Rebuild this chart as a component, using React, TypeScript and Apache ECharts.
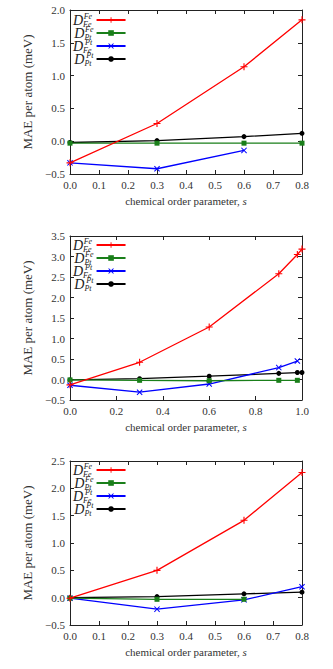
import React, { useEffect, useRef } from "react";
import * as echarts from "echarts";

const names = ["DFeFe", "DFePt", "DPtFe", "DPtPt"];
const supLabels = ["Fe", "Fe", "Pt", "Pt"];
const subLabels = ["Fe", "Pt", "Fe", "Pt"];
const colors = ["#ff0000", "#1a7f1a", "#0000ff", "#000000"];

// Panel 1
const p1FeFe = [[0, -0.33], [0.3, 0.27], [0.6, 1.135], [0.8, 1.85]];
const p1FePt = [[0, -0.03], [0.3, -0.03], [0.6, -0.03], [0.8, -0.03]];
const p1PtFe = [[0, -0.33], [0.3, -0.42], [0.6, -0.14]];
const p1PtPt = [[0, -0.02], [0.3, 0.01], [0.6, 0.07], [0.8, 0.12]];

// Panel 2
const p2FeFe = [[0, -0.13], [0.3, 0.42], [0.6, 1.28], [0.9, 2.58], [0.98, 3.05], [1.0, 3.18]];
const p2FePt = [[0, -0.01], [0.3, -0.02], [0.6, -0.03], [0.9, -0.02], [0.98, -0.02]];
const p2PtFe = [[0, -0.14], [0.3, -0.31], [0.6, -0.11], [0.9, 0.29], [0.98, 0.45]];
const p2PtPt = [[0, -0.01], [0.3, 0.02], [0.6, 0.08], [0.9, 0.15], [0.98, 0.17], [1.0, 0.17]];

// Panel 3
const p3FeFe = [[0, -0.01], [0.3, 0.5], [0.6, 1.415], [0.8, 2.29]];
const p3FePt = [[0, -0.01], [0.3, -0.03], [0.6, -0.03]];
const p3PtFe = [[0, -0.01], [0.3, -0.21], [0.6, -0.04], [0.8, 0.2]];
const p3PtPt = [[0, 0.0], [0.3, 0.02], [0.6, 0.07], [0.8, 0.1]];

const panels = [
  { series: [p1FeFe, p1FePt, p1PtFe, p1PtPt], xMax: 0.8, xInterval: 0.1, yMin: -0.5, yMax: 2.0 },
  { series: [p2FeFe, p2FePt, p2PtFe, p2PtPt], xMax: 1.0, xInterval: 0.2, yMin: -0.5, yMax: 3.5 },
  { series: [p3FeFe, p3FePt, p3PtFe, p3PtPt], xMax: 0.8, xInterval: 0.1, yMin: -0.5, yMax: 2.5 },
];

const xTitle = "chemical order parameter, ";
const yTitle = "MAE per atom (meV)";

const plusPath = "path://M4.2,0H5.8V4.2H10V5.8H5.8V10H4.2V5.8H0V4.2H4.2Z";
const crossPath =
  "path://M1.2,0L5,3.8L8.8,0L10,1.2L6.2,5L10,8.8L8.8,10L5,6.2L1.2,10L0,8.8L3.8,5L0,1.2Z";
const symbols = [plusPath, "rect", crossPath, "circle"];
const symbolSizes = [7, 5, 6, 5];

const FONT = "'Liberation Serif', 'Times New Roman', serif";
const AXIS = "#222";
const TXT = "#333";

export default function App() {
  const ref = useRef<HTMLDivElement>(null);
  useEffect(() => {
    document.body.style.margin = "0";
    const chart = echarts.init(ref.current!, null, { renderer: "svg" });
    const gridTops = [10, 236, 461];
    const legendTops = [12, 237, 462];
    const grids: any[] = [];
    const xAxes: any[] = [];
    const yAxes: any[] = [];
    const series: any[] = [];
    const legends: any[] = [];
    const minusFmt = (v: number) => (v < 0 ? "\u2212" + Math.abs(v).toFixed(1) : v.toFixed(1));
    panels.forEach((p, gi) => {
      grids.push({ left: 70, width: 232, top: gridTops[gi], height: 164 });
      const common = {
        gridIndex: gi,
        type: "value",
        splitLine: { show: false },
        axisLine: { show: true, onZero: false, lineStyle: { color: AXIS, width: 1 } },
        axisTick: { show: true, inside: true, length: 4, lineStyle: { color: AXIS } },
      };
      xAxes.push({
        ...common,
        position: "bottom",
        min: 0,
        max: p.xMax,
        interval: p.xInterval,
        axisLabel: {
          margin: 5,
          color: TXT,
          fontFamily: FONT,
          fontSize: 11,
          formatter: (v: number) => v.toFixed(1),
        },
        name: xTitle + "{i|s}",
        nameLocation: "middle",
        nameGap: 21,
        nameTextStyle: {
          fontFamily: FONT,
          fontSize: 11,
          color: TXT,
          rich: { i: { fontFamily: FONT, fontStyle: "italic", fontSize: 11, color: TXT } },
        },
      });
      xAxes.push({
        ...common,
        position: "top",
        min: 0,
        max: p.xMax,
        interval: p.xInterval,
        axisLabel: { show: false },
      });
      yAxes.push({
        ...common,
        position: "left",
        min: p.yMin,
        max: p.yMax,
        interval: 0.5,
        axisLabel: {
          margin: 5,
          color: TXT,
          fontFamily: FONT,
          fontSize: 11,
          formatter: minusFmt,
        },
        name: yTitle,
        nameLocation: "middle",
        nameGap: 32,
        nameTextStyle: { fontFamily: FONT, fontSize: 13, color: TXT },
      });
      yAxes.push({
        ...common,
        position: "right",
        min: p.yMin,
        max: p.yMax,
        interval: 0.5,
        axisLabel: { show: false },
      });
      p.series.forEach((data, si) => {
        series.push({
          type: "line",
          name: names[si],
          xAxisIndex: gi * 2,
          yAxisIndex: gi * 2,
          data,
          symbol: symbols[si],
          symbolSize: symbolSizes[si],
          showAllSymbol: true,
          lineStyle: { color: colors[si], width: 1.3 },
          itemStyle: { color: colors[si], borderWidth: 0 },
          z: 10 - si,
        });
      });
      legends.push({
        orient: "vertical",
        left: 73,
        top: legendTops[gi],
        align: "right",
        itemWidth: 29,
        itemHeight: 7,
        itemGap: -3,
        padding: 0,
        selectedMode: false,
        data: names,
        formatter: (name: string) => {
          const i = names.indexOf(name);
          return `{d|D}{sup|${supLabels[i]}}{sub|${subLabels[i]}}`;
        },
        textStyle: {
          rich: {
            d: { fontFamily: FONT, fontStyle: "italic", fontSize: 14, color: "#222", lineHeight: 16, verticalAlign: "middle" },
            sup: { fontFamily: FONT, fontStyle: "italic", fontSize: 8, color: "#222", width: 9, lineHeight: 8, verticalAlign: "top" },
            sub: { fontFamily: FONT, fontStyle: "italic", fontSize: 8, color: "#222", lineHeight: 8, verticalAlign: "bottom", padding: [0, 0, 0, -9] },
          },
        },
      });
    });
    chart.setOption({
      animation: false,
      backgroundColor: "#ffffff",
      grid: grids,
      xAxis: xAxes,
      yAxis: yAxes,
      legend: legends,
      series,
    });
    return () => chart.dispose();
  }, []);
  return (
    <div
      ref={ref}
      style={{ position: "fixed", left: 0, top: 0, width: 333, height: 669 }}
    />
  );
}
